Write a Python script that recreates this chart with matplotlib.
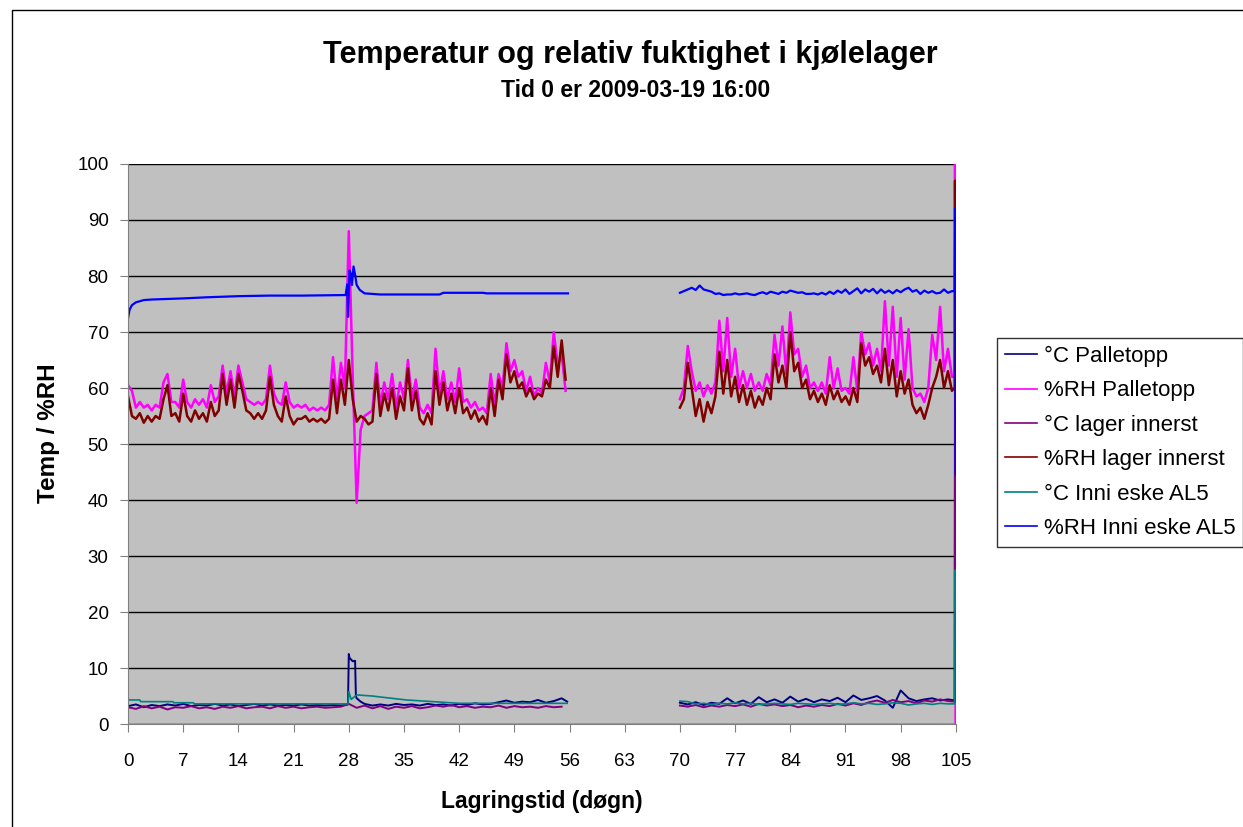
import matplotlib.pyplot as plt
import numpy as np
from matplotlib.patches import Rectangle

plt.rcParams['font.family'] = ['Liberation Sans', 'DejaVu Sans']

# RH-serier, ett punkt per halve døgn
rh_start_1 = 0.0
rh_start_2 = 70.0

rh_pall_1 = [
    60.5, 59.5, 56.5, 57.5, 56.5, 57.0, 56.0, 57.0, 56.5, 61.0, 62.5, 57.5, 57.5, 56.5,
    61.5, 57.5, 56.5, 58.0, 57.0, 58.0, 56.5, 60.5, 57.5, 58.5, 64.0, 59.0, 63.0, 58.5,
    64.0, 61.0, 58.0, 57.5, 57.0, 57.5, 57.0, 58.0, 64.0, 59.0, 57.5, 57.0, 61.0, 57.5,
    56.5, 57.0, 56.5, 57.0, 56.0, 56.5, 56.0, 56.5, 56.0, 57.0, 65.5, 58.0, 64.5, 60.0,
    88.0, 62.0, 39.5, 52.5, 55.0, 55.5, 56.0, 64.5, 57.0, 61.0, 58.0, 62.5, 56.5, 61.0,
    58.0, 65.0, 58.0, 61.5, 56.5, 55.5, 57.0, 55.5, 67.0, 59.0, 63.0, 58.0, 61.0, 57.5,
    63.5, 57.5, 58.0, 56.5, 57.5, 56.0, 56.5, 55.5, 62.5, 57.0, 62.5, 60.0, 68.0, 63.0,
    65.0, 62.0, 63.0, 59.5, 62.0, 58.5, 60.0, 59.0, 64.5, 61.0, 70.0, 64.0, 66.0, 59.5,
]
rh_lager_1 = [
    58.5, 55.0, 54.5, 55.5, 53.8, 55.0, 54.0, 55.0, 54.5, 58.0, 60.5, 55.0, 55.5, 54.0,
    59.0, 55.0, 54.0, 56.0, 54.5, 55.5, 54.0, 57.5, 55.0, 56.0, 62.5, 57.0, 61.5, 56.5,
    62.5, 59.5, 56.0, 55.5, 54.5, 55.5, 54.5, 56.0, 62.0, 57.0, 55.0, 54.0, 58.5, 55.0,
    53.5, 54.5, 54.5, 55.0, 54.0, 54.5, 54.0, 54.5, 53.8, 54.5, 61.5, 55.5, 61.5, 57.0,
    65.0, 58.0, 54.0, 55.0, 54.5, 53.5, 54.0, 62.5, 55.0, 59.0, 56.0, 60.0, 54.5, 58.5,
    56.0, 63.5, 56.0, 59.5, 54.5, 53.5, 55.5, 53.5, 63.0, 57.0, 61.0, 56.0, 59.0, 55.5,
    60.0, 55.5, 56.5, 54.5, 56.0, 54.0, 55.0, 53.5, 60.0, 55.0, 61.5, 58.0, 66.0, 61.0,
    63.0, 60.0, 61.0, 58.5, 60.0, 58.0, 59.0, 58.5, 61.5, 60.0, 67.5, 62.0, 68.5, 61.5,
]
rh_pall_2 = [
    58.0, 60.0, 67.5, 63.0, 59.5, 61.0, 58.5, 60.5, 59.0, 61.0, 72.0, 63.0, 72.5, 62.0,
    67.0, 60.0, 63.0, 60.0, 62.5, 59.5, 61.0, 59.5, 62.5, 60.5, 69.5, 64.0, 71.0, 62.5,
    73.5, 66.0, 67.0, 62.0, 64.0, 60.0, 61.0, 59.5, 61.0, 59.0, 65.5, 60.0, 63.5, 59.5,
    60.0, 59.0, 65.5, 59.5, 70.0, 66.0, 68.0, 64.0, 67.0, 63.0, 75.5, 64.0, 74.5, 62.0,
    72.5, 61.5, 70.5, 60.0, 58.5, 59.0, 57.5, 60.0, 69.5, 65.0, 74.5, 63.0, 67.0, 62.0,
]
rh_lager_2 = [
    56.5, 58.0, 64.5, 60.0, 55.0, 58.0, 54.0, 57.5, 55.5, 58.5, 66.5, 59.0, 65.0, 58.5,
    62.0, 57.5, 60.5, 57.0, 59.5, 56.5, 58.5, 57.0, 60.0, 58.0, 66.0, 61.0, 64.0, 60.0,
    70.0, 63.0, 64.5, 60.0, 61.5, 58.0, 59.5, 57.5, 59.0, 57.0, 60.5, 58.0, 59.5, 57.5,
    58.5, 57.0, 60.0, 57.5, 68.0, 64.0, 65.5, 62.5, 64.0, 61.0, 67.0, 60.5, 65.0, 58.5,
    63.0, 59.0, 61.5, 57.0, 55.5, 56.5, 54.5, 57.0, 60.0, 62.0, 65.0, 60.0, 63.0, 59.5,
]
rh_eske_2 = [
    77.0, 77.3, 77.6, 77.9, 77.5, 78.3, 77.6, 77.4, 77.2, 76.8, 76.9, 76.6, 76.7, 76.7,
    76.9, 76.7, 76.8, 76.9, 76.7, 76.6, 76.9, 77.1, 76.8, 77.2, 77.0, 76.8, 77.2, 77.0,
    77.4, 77.2, 77.0, 77.1, 76.8, 76.8, 76.9, 76.7, 77.0, 76.7, 77.2, 76.8, 77.4, 77.0,
    77.6, 76.8, 77.3, 77.8, 76.9, 77.6, 77.2, 77.7, 76.9, 77.6, 77.0, 77.4, 76.9, 77.5,
    77.1, 77.6, 77.9, 77.2, 77.5, 76.8, 77.4, 77.0, 77.3, 76.9, 77.0, 77.6, 77.0, 77.3,
]

# RH inni eske, første periode (ujevn tidsakse)
eske_days_1 = [0, 0.2, 0.5, 1, 2, 3, 5, 7, 10, 14, 18, 22, 27.6, 27.8, 27.9, 28.1,
               28.3, 28.4, 28.6, 28.8, 29, 29.4, 30, 32, 35, 39.5, 40, 45, 45.5, 50, 55.8]
rh_eske_1 = [72.5, 74.0, 74.8, 75.3, 75.7, 75.8, 75.9, 76.0, 76.2, 76.4, 76.5, 76.5,
             76.6, 78.5, 72.7, 81.0, 80.2, 78.4, 81.7, 80.2, 78.4, 77.5, 76.9, 76.7,
             76.7, 76.7, 77.0, 77.0, 76.9, 76.9, 76.9]

# Temperaturer
pall_days_1 = list(range(0, 28)) + [27.9, 28.0, 28.1, 28.5, 28.8, 28.9, 29.0, 29.5] \
    + list(range(30, 56)) + [55.7]
temp_pall_1 = [
    3.2, 3.5, 3.0, 3.4, 3.2, 3.5, 3.3, 3.6, 3.2, 3.4, 3.3, 3.6, 3.3, 3.5,
    3.2, 3.4, 3.6, 3.3, 3.5, 3.3, 3.4, 3.3, 3.5, 3.3, 3.4, 3.3, 3.4, 3.3,
    3.5, 12.5, 11.8, 11.2, 11.3, 5.0, 4.6, 4.0,
    3.6, 3.3, 3.5, 3.3, 3.6, 3.4, 3.5, 3.3, 3.6, 3.4, 3.5, 3.3, 3.6, 3.4,
    3.7, 3.5, 3.6, 3.9, 4.2, 3.8, 4.0, 3.9, 4.3, 3.8, 4.1, 4.6, 4.0,
]
temp_lager_1 = [
    3.0, 2.7, 3.2, 2.8, 3.1, 2.6, 3.0, 2.9, 3.2, 2.8, 3.0, 2.7, 3.1, 2.9,
    3.2, 2.8, 3.0, 3.1, 2.8, 3.2, 2.9, 3.1, 2.8, 3.0, 3.1, 2.9, 3.0, 3.1,
    3.6, 2.9, 3.3, 2.8, 3.2, 2.7, 3.1, 2.9, 3.2, 2.8, 3.0, 3.3, 3.1, 3.4,
    3.0, 3.2, 2.9, 3.1, 3.0, 3.3, 2.9, 3.2, 3.0, 3.1, 2.9, 3.2, 3.0, 3.1,
]
eske_temp_days_1 = [0, 1.5, 1.6, 5.7, 5.8, 8.3, 8.4, 27.9, 28.0, 28.3, 29, 31,
                    32.8, 35.3, 38.7, 42, 55.7]
temp_eske_1 = [4.3, 4.3, 4.0, 4.0, 3.8, 3.8, 3.6, 3.6, 5.8, 4.4, 5.2, 5.0,
               4.7, 4.3, 4.0, 3.7, 3.7]

temp_pall_2 = [
    3.8, 3.5, 3.9, 3.4, 3.8, 3.6, 4.6, 3.7, 4.2, 3.6, 4.8, 3.9, 4.4, 3.8,
    4.9, 4.0, 4.5, 3.9, 4.4, 4.1, 4.7, 3.9, 5.1, 4.3, 4.6, 5.0, 4.2, 2.9,
    6.0, 4.6, 4.1, 4.4, 4.6, 4.2, 4.4,
]
temp_lager_2 = [
    3.3, 3.1, 3.4, 3.0, 3.3, 3.1, 3.4, 3.2, 3.5, 3.1, 3.6, 3.3, 3.5, 3.2,
    3.4, 3.0, 3.3, 3.1, 3.4, 3.2, 3.6, 3.3, 3.7, 3.4, 3.9, 4.2, 3.8, 4.3,
    3.9, 4.1, 3.7, 4.2, 4.0, 4.4, 4.1,
]
temp_eske_2 = [
    4.1, 4.0, 3.6, 3.7, 3.5, 3.7, 3.6, 3.8, 3.6, 3.7, 3.5, 3.6, 3.7, 3.6,
    3.5, 3.7, 3.6, 3.5, 3.6, 3.7, 3.5, 3.6, 3.8, 3.6, 3.7, 3.5, 3.6, 3.8,
    3.7, 3.4, 3.6, 3.7, 3.5, 3.7, 3.6,
]

# Siste målinger ved dag 105 (sensorene tas ut)
end_days = [104.85, 104.9, 104.97]
end_pall_t = [4.2, 92.0, 20.0]
end_pall_rh = [62.0, 100.0, 0.0]
end_lager_t = [4.0, 60.0, 4.0]
end_lager_rh = [60.0, 97.0, 66.0]
end_eske_t = [3.6, 27.5, 20.5]
end_eske_rh = [77.3, 92.0, 44.6]

labels = ['°C Palletopp', '%RH Palletopp', '°C lager innerst',
          '%RH lager innerst', '°C Inni eske AL5', '%RH Inni eske AL5']
colors = ['#000080', '#FF00FF', '#800080', '#800000', '#008080', '#0000FF']


def halfday(start, values):
    return start + 0.5 * np.arange(len(values))


def daily(start, values):
    return start + np.arange(len(values))


def join(first, second, end):
    # første periode, NaN for hullet, andre periode og avslutning
    d1, v1 = first
    d2, v2 = second
    days = np.concatenate([d1, [np.nan], d2, end_days])
    vals = np.concatenate([v1, [np.nan], v2, end])
    return days, vals


series = [
    join((pall_days_1, temp_pall_1), (daily(70, temp_pall_2), temp_pall_2), end_pall_t),
    join((halfday(rh_start_1, rh_pall_1), rh_pall_1),
         (halfday(rh_start_2, rh_pall_2), rh_pall_2), end_pall_rh),
    join((daily(0, temp_lager_1), temp_lager_1),
         (daily(70, temp_lager_2), temp_lager_2), end_lager_t),
    join((halfday(rh_start_1, rh_lager_1), rh_lager_1),
         (halfday(rh_start_2, rh_lager_2), rh_lager_2), end_lager_rh),
    join((eske_temp_days_1, temp_eske_1), (daily(70, temp_eske_2), temp_eske_2), end_eske_t),
    join((eske_days_1, rh_eske_1), (halfday(rh_start_2, rh_eske_2), rh_eske_2), end_eske_rh),
]

fig = plt.figure(figsize=(12.43, 8.27), dpi=100)
ax = fig.add_axes([0.103, 0.1245, 0.666, 0.6772])
ax.set_facecolor('#C0C0C0')

widths = [1.4, 1.8, 1.4, 1.8, 1.2, 1.6]
for (days, vals), label, color, lw in zip(series, labels, colors, widths):
    ax.plot(days, vals, color=color, lw=lw, label=label)

ax.set_xlim(0, 105)
ax.set_ylim(0, 100)
ax.set_xticks(np.arange(0, 106, 7))
ax.set_yticks(np.arange(0, 101, 10))
ax.yaxis.grid(True, color='black', lw=1)
ax.set_axisbelow(True)
ax.tick_params(labelsize=13.5, length=6, direction='out', color='#808080')
ax.tick_params(axis='x', pad=15)
ax.tick_params(axis='y', pad=8)
for side in ['left', 'bottom']:
    ax.spines[side].set_color('#808080')
ax.spines['top'].set_visible(False)
ax.spines['right'].set_visible(False)

ax.set_xlabel('Lagringstid (døgn)', fontsize=16.5, fontweight='bold', labelpad=14)
ax.set_ylabel('Temp / %RH', fontsize=17.5, fontweight='bold')
ax.yaxis.set_label_coords(-0.082, 0.52)

fig.text(0.507, 0.933, 'Temperatur og relativ fuktighet i kjølelager',
         ha='center', va='center', fontsize=22, fontweight='bold')
fig.text(0.511, 0.891, 'Tid 0 er 2009-03-19 16:00',
         ha='center', va='center', fontsize=16.5, fontweight='bold')

leg = fig.legend(loc='center left', bbox_to_anchor=(0.802, 0.465), fontsize=16,
                 frameon=True, fancybox=False, handlelength=1.45, labelspacing=0.6,
                 borderpad=0.35, handletextpad=0.3, borderaxespad=0)
leg.get_frame().set_edgecolor('black')
leg.get_frame().set_linewidth(1)
for line in leg.get_lines():
    line.set_linewidth(1.2)

fig.patches.append(Rectangle((0.0097, -0.5), 2, 1.488, transform=fig.transFigure,
                             fill=False, edgecolor='black', lw=1))

fig.savefig('out.png', dpi=100)
